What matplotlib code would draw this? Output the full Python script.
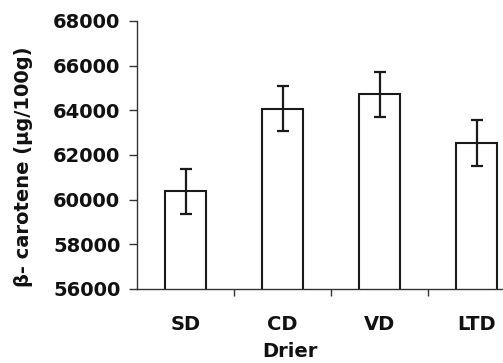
import matplotlib
matplotlib.use("Agg")
import matplotlib.pyplot as plt
import numpy as np

categories = ["SD", "CD", "VD", "LTD"]
values = [60370, 64080, 64720, 62540]
errors = [1020, 1000, 1000, 1020]
yticks = [56000, 58000, 60000, 62000, 64000, 66000, 68000]

plt.rcParams['font.family'] = ['DejaVu Sans']
fig = plt.figure(figsize=(5.03, 3.63), dpi=100)
ax = fig.add_axes([137/503, 1-289/363, (525-137)/503, (289-21)/363])

x = np.arange(len(categories))
ax.bar(x, values, width=0.42, bottom=0, color="white", edgecolor="#1a1a1a",
       linewidth=1.5, zorder=2)
ax.errorbar(x, values, yerr=errors, fmt="none", ecolor="#1a1a1a",
            elinewidth=1.6, capsize=4, capthick=1.6, zorder=3)

ax.set_xlim(-0.5, 3.5)
ax.set_ylim(56000, 68000)
ax.set_yticks(yticks)
ax.set_yticklabels([str(v) for v in yticks], fontsize=14, fontweight="bold",
                   color="#111111")
ax.set_xticks(x)
ax.set_xticklabels(categories, fontsize=14, fontweight="bold", color="#111111")
ax.set_xticks([0.5, 1.5, 2.5], minor=True)
ax.tick_params(axis="x", which="major", length=0, pad=19)
ax.tick_params(axis="x", which="minor", length=5, width=1, color="#333333",
               direction="out")
ax.tick_params(axis="y", length=6, width=1, color="#333333", direction="out", pad=6)

for s in ["top", "right"]:
    ax.spines[s].set_visible(False)
for s in ["left", "bottom"]:
    ax.spines[s].set_color("#333333")
    ax.spines[s].set_linewidth(1.0)

ax.set_ylabel("β- carotene (µg/100g)", fontsize=14, fontweight="bold",
              color="#111111")
ax.yaxis.set_label_coords(-0.268, 0.457)
ax.set_xlabel("Drier", fontsize=14, fontweight="bold", color="#111111")
ax.xaxis.set_label_coords((290 - 137) / 388, -0.198)
ax.xaxis.label.set_va("top")

fig.savefig("out.png", dpi=100)
